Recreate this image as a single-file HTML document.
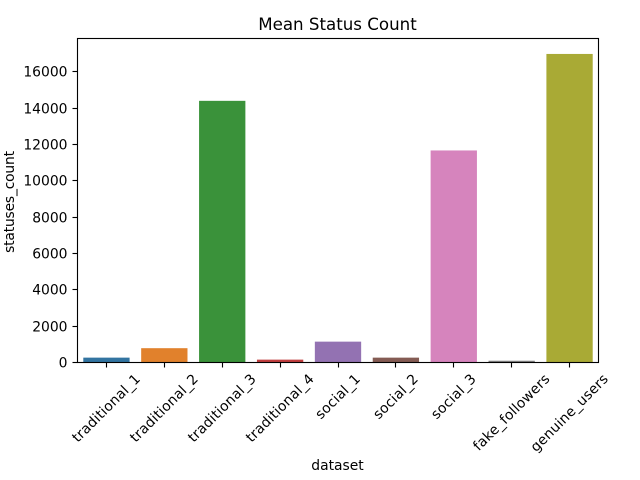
<!DOCTYPE html>
<html>
<head>
<meta charset="utf-8">
<style>
html,body{margin:0;padding:0;background:#fff;}
svg{display:block;}
text{font-family:"DejaVu Sans","Liberation Sans",sans-serif;fill:#000;}
</style>
</head>
<body>
<svg id="chart" width="640" height="480" viewBox="0 0 640 480" xmlns="http://www.w3.org/2000/svg">
<text x="337.5" y="30" font-size="16.67" text-anchor="middle">Mean Status Count</text>
<text x="337.5" y="470" font-size="13.89" text-anchor="middle">dataset</text>
<text transform="translate(14,202) rotate(-90)" font-size="13.89" letter-spacing="-0.2" text-anchor="middle">statuses_count</text>
<g id="bars"></g>
<g id="xticks"></g>
<g id="yticks"></g>
<rect x="77.5" y="38.5" width="521" height="324" fill="none" stroke="#000" stroke-width="1.11"></rect>
</svg>
<script>
const categories = ["traditional_1","traditional_2","traditional_3","traditional_4","social_1","social_2","social_3","fake_followers","genuine_users"];
const statusCounts = [240,760,14370,130,1120,240,11640,70,16950];
const barColors = ["#3274a1","#e1812c","#3a923a","#c03d3e","#9372b2","#845b53","#d684bd","#7f7f7f","#a9aa35"];
const yTickValues = [0,2000,4000,6000,8000,10000,12000,14000,16000];

const NS = "http://www.w3.org/2000/svg";
const plotLeft = 77.5, plotRight = 598.5, plotTop = 38.5, plotBottom = 362;
const yMax = 17800;
function xScale(i){ return plotLeft + (i + 0.5) * (plotRight - plotLeft) / categories.length; }
function yScale(v){ return plotBottom - v / yMax * (plotBottom - plotTop); }
const bandWidth = 0.8 * (plotRight - plotLeft) / categories.length;

const barsGroup = document.getElementById("bars");
const xGroup = document.getElementById("xticks");
const yGroup = document.getElementById("yticks");

categories.forEach(function(name, i){
  const r = document.createElementNS(NS, "rect");
  
  
  r.setAttribute("x", xScale(i) - bandWidth / 2);
  r.setAttribute("y", yScale(statusCounts[i]));
  r.setAttribute("width", bandWidth);
  r.setAttribute("height", plotBottom - yScale(statusCounts[i]));
  r.setAttribute("fill", barColors[i]);
  barsGroup.appendChild(r);

  const tx = Math.round(xScale(i) - 0.5) + 0.5;
  const t = document.createElementNS(NS, "line");
  
  
  t.setAttribute("x1", tx);
  t.setAttribute("x2", tx);
  t.setAttribute("y1", plotBottom);
  t.setAttribute("y2", plotBottom + 5.5);
  t.setAttribute("stroke", "#000");
  t.setAttribute("stroke-width", "1.11");
  xGroup.appendChild(t);

  const l = document.createElementNS(NS, "text");
  
  
  l.textContent = name;
  l.setAttribute("font-size", "13.89");
  l.setAttribute("letter-spacing", "0.2");
  l.setAttribute("text-anchor", "middle");
  xGroup.appendChild(l);
  const len = l.getComputedTextLength();
  const half = (len + 13) * Math.SQRT1_2 / 2;
  const cy = 371.5 + half;
  l.setAttribute("transform", "translate(" + (xScale(i) - 0.5) + "," + cy + ") rotate(-45) translate(0,5)");
});

yTickValues.forEach(function(v){
  const ty = Math.round(yScale(v)) + 0.5;
  const t = document.createElementNS(NS, "line");
  
  
  t.setAttribute("x1", plotLeft - 5);
  t.setAttribute("x2", plotLeft);
  t.setAttribute("y1", ty);
  t.setAttribute("y2", ty);
  t.setAttribute("stroke", "#000");
  t.setAttribute("stroke-width", "1.11");
  yGroup.appendChild(t);

  const l = document.createElementNS(NS, "text");
  
  
  l.textContent = String(v);
  l.setAttribute("x", plotLeft - 10);
  l.setAttribute("y", ty + 5);
  l.setAttribute("font-size", "13.89");
  l.setAttribute("text-anchor", "end");
  yGroup.appendChild(l);
});
</script>
</body>
</html>
